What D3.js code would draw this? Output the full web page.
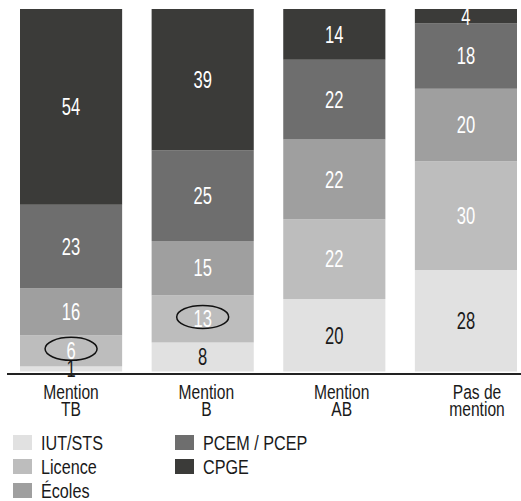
<!DOCTYPE html>
<html><head><meta charset="utf-8">
<script src="https://cdn.jsdelivr.net/npm/d3@7"></script>
<style>
html,body{margin:0;padding:0;background:#fff;}
text{font-family:"Liberation Sans",Arial,sans-serif;}
</style></head><body>
<svg id="chart" width="521" height="501"></svg>
<script>
// Categories (two-line axis labels)
const categories = ["Mention TB", "Mention B", "Mention AB", "Pas de mention"];
const categoryLines = [["Mention","TB"],["Mention","B"],["Mention","AB"],["Pas de","mention"]];
// Series, bottom to top
const seriesNames = ["IUT/STS", "Licence", "Écoles", "PCEM / PCEP", "CPGE"];
// Drawn heights (%)
const iut   = [1.4, 8, 20, 28];
const licence = [8.6, 13, 22, 30];
const ecoles  = [13, 15, 22, 20];
const pcem    = [23, 25, 22, 18];
const cpge    = [54, 39, 14, 4];
// Printed labels
const iutLabels     = ["1", "8", "20", "28"];
const licenceLabels = ["6", "13", "22", "30"];
const ecolesLabels  = ["16", "15", "22", "20"];
const pcemLabels    = ["23", "25", "22", "18"];
const cpgeLabels    = ["54", "39", "14", "4"];
// Circled labels: [series index, category index]
const circled = [[1, 0], [1, 1]];

const seriesValues = [iut, licence, ecoles, pcem, cpge];
const seriesLabels = [iutLabels, licenceLabels, ecolesLabels, pcemLabels, cpgeLabels];
const colors = ["#e1e1e1", "#bdbdbd", "#9f9f9f", "#6e6e6e", "#3b3b39"];
const textColors = ["#1a1a1a", "#fff", "#fff", "#fff", "#fff"];

const rows = categories.map((c, i) => {
  const o = {cat: c};
  seriesNames.forEach((s, j) => o[s] = seriesValues[j][i]);
  return o;
});
const stacked = d3.stack().keys(seriesNames)(rows);

const svg = d3.select("#chart");
const x = d3.scaleBand().domain(categories).range([20, 517]).paddingInner(0.224).paddingOuter(0);
const xLabel = d3.scalePoint().domain(categories).range([71, 477]);
const y = d3.scaleLinear().domain([0, 100]).range([371.5, 9]);

// condensed text helper
function ctext(parent, tx, ty, str, size, sx, fill, anchor) {
  return parent.append("text")
    .attr("transform", `translate(${tx},${ty}) scale(${sx},1)`)
    .attr("text-anchor", anchor || "start")
    .attr("font-size", size)
    .attr("fill", fill)
    .text(str);
}

const g = svg.append("g");
stacked.forEach((layer, j) => {
  g.selectAll(null).data(layer).enter().append("rect")
    .attr("x", d => x(d.data.cat))
    .attr("width", x.bandwidth())
    .attr("y", d => y(d[1]))
    .attr("height", d => y(d[0]) - y(d[1]))
    .attr("fill", colors[j]);
});
stacked.forEach((layer, j) => {
  layer.forEach((d, i) => {
    ctext(g, x(d.data.cat) + x.bandwidth() / 2, (y(d[0]) + y(d[1])) / 2 + 8.3,
      seriesLabels[j][i], 23, 0.72, textColors[j], "middle");
  });
});
circled.forEach(([j, i]) => {
  const d = stacked[j][i];
  svg.append("ellipse")
    .attr("cx", x(categories[i]) + x.bandwidth() / 2)
    .attr("cy", (y(d[0]) + y(d[1])) / 2 - 2)
    .attr("rx", 26).attr("ry", 11.5)
    .attr("fill", "none").attr("stroke", "#111").attr("stroke-width", 1.5);
});

// Baseline axis
svg.append("line").attr("x1", 7).attr("x2", 521).attr("y1", 374).attr("y2", 374)
  .attr("stroke", "#222").attr("stroke-width", 2);

// Category labels
categories.forEach((c, i) => {
  categoryLines[i].forEach((ln, k) => {
    ctext(svg, xLabel(c), 399 + k * 17, ln, 19.5, 0.8, "#1a1a1a", "middle");
  });
});

// Legend
const legendPos = [[13, 435], [13, 459], [13, 483], [175, 435], [175, 459]];
seriesNames.forEach((s, j) => {
  const [lx, ly] = legendPos[j];
  svg.append("rect").attr("x", lx).attr("y", ly).attr("width", 19).attr("height", 15).attr("fill", colors[j]);
  ctext(svg, lx + 28, ly + 15, s, 21, 0.77, "#1a1a1a", "start");
});
</script>
</body></html>
